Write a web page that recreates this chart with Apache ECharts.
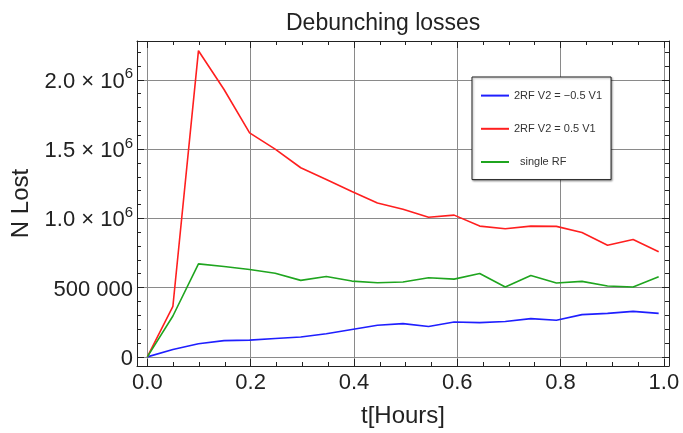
<!DOCTYPE html>
<html>
<head>
<meta charset="utf-8">
<script src="https://cdn.jsdelivr.net/npm/echarts@6/dist/echarts.min.js"></script>
<style>
  html, body { margin: 0; padding: 0; background: #fff; }
  #chart { width: 683px; height: 433px; }
</style>
</head>
<body>
<div id="chart"></div>
<script>
// Time axis (hours) and lost-particle counts for each RF configuration
const hours = [0, 0.0495, 0.099, 0.1485, 0.198, 0.2475, 0.297, 0.3465, 0.396, 0.4455, 0.495,
               0.5445, 0.594, 0.6435, 0.693, 0.7425, 0.792, 0.8415, 0.891, 0.9405, 0.99];
const lostMinusHalf = [0, 53000, 95000, 117000, 121000, 133000, 143000, 167000, 198000, 228000, 240000,
                       219000, 252000, 247000, 255000, 276000, 264000, 305000, 314000, 328000, 314000];
const lostPlusHalf = [0, 365000, 2210000, 1930000, 1617000, 1500000, 1365000, 1280000, 1194000, 1110000, 1065000,
                      1008000, 1023000, 944000, 925000, 944000, 942000, 897000, 806000, 847000, 759000];
const lostSingle = [0, 295000, 671000, 652000, 630000, 604000, 552000, 580000, 547000, 535000, 540000,
                    571000, 561000, 602000, 504000, 588000, 533000, 545000, 511000, 504000, 578000];

const seriesNames = ['2RF V2 = \u22120.5 V1', '2RF V2 = 0.5 V1', 'single RF'];

// Frame ticks
const xMajorTicks = [0, 0.2, 0.4, 0.6, 0.8, 1.0];
const xMinorTicks = [0.05, 0.1, 0.15, 0.25, 0.3, 0.35, 0.45, 0.5, 0.55, 0.65, 0.7, 0.75, 0.85, 0.9, 0.95];
const xTickLabels = ['0.0', '0.2', '0.4', '0.6', '0.8', '1.0'];
const yMajorTicks = [0, 500000, 1000000, 1500000, 2000000];
const yMinorTicks = [100000, 200000, 300000, 400000, 600000, 700000, 800000, 900000,
                     1100000, 1200000, 1300000, 1400000, 1600000, 1700000, 1800000, 1900000,
                     2100000, 2200000];
const yTickLabels = ['0', '500 000', '1.0 \u00d7 10^6', '1.5 \u00d7 10^6', '2.0 \u00d7 10^6'];

const X_MIN = -0.02, X_MAX = 1.01;
const Y_MIN = -66000, Y_MAX = 2280000;

const FONT = "'Liberation Sans', Arial, Helvetica, sans-serif";
const FRAME = '#222';
const GRID = '#8a8a8a';

function xLabel(v) {
  const i = xMajorTicks.findIndex(t => Math.abs(t - v) < 1e-9);
  return i < 0 ? '' : xTickLabels[i];
}
function yLabel(v) {
  const i = yMajorTicks.findIndex(t => Math.abs(t - v) < 1e-3);
  if (i < 0) return '';
  const parts = yTickLabels[i].split('^');
  return parts.length === 2 ? '{b|' + parts[0] + '}{s|' + parts[1] + '}' : '{b|' + parts[0] + '}';
}

function xAxisDef(position, ticks, len, major) {
  return {
    type: 'value', gridIndex: 0, position: position, min: X_MIN, max: X_MAX,
    axisLine: { show: major, onZero: false, lineStyle: { color: FRAME, width: 1 } },
    axisTick: { show: true, inside: true, length: len, customValues: ticks, lineStyle: { color: FRAME, width: 1 } },
    axisLabel: (major && position === 'bottom') ? {
      show: true, customValues: xMajorTicks, formatter: xLabel, margin: 6,
      fontSize: 22, fontFamily: FONT, color: '#222'
    } : { show: false },
    splitLine: (major && position === 'bottom') ? { show: true, lineStyle: { color: GRID, width: 1 } } : { show: false },
    minorTick: { show: false }
  };
}
function yAxisDef(position, ticks, len, major) {
  return {
    type: 'value', gridIndex: 0, position: position, min: Y_MIN, max: Y_MAX,
    axisLine: { show: major, onZero: false, lineStyle: { color: FRAME, width: 1 } },
    axisTick: { show: true, inside: true, length: len, customValues: ticks, lineStyle: { color: FRAME, width: 1 } },
    axisLabel: (major && position === 'left') ? {
      show: true, customValues: yMajorTicks, formatter: yLabel, margin: 4,
      rich: {
        b: { fontSize: 22, fontFamily: FONT, color: '#222', verticalAlign: 'bottom', lineHeight: 26 },
        s: { fontSize: 15, fontFamily: FONT, color: '#222', verticalAlign: 'top', lineHeight: 10 }
      }
    } : { show: false },
    splitLine: (major && position === 'left') ? { show: true, lineStyle: { color: GRID, width: 1 } } : { show: false },
    minorTick: { show: false }
  };
}

const xAxes = [
  xAxisDef('bottom', xMajorTicks, 7, true),
  xAxisDef('bottom', xMinorTicks, 4, false),
  xAxisDef('top', xMajorTicks, 7, true),
  xAxisDef('top', xMinorTicks, 4, false)
];
xAxes[0].name = 't[Hours]';
xAxes[0].nameLocation = 'middle';
xAxes[0].nameGap = 38;
xAxes[0].nameTextStyle = { fontSize: 24, fontFamily: FONT, color: '#222' };

const yAxes = [
  yAxisDef('left', yMajorTicks, 7, true),
  yAxisDef('left', yMinorTicks, 4, false),
  yAxisDef('right', yMajorTicks, 7, true),
  yAxisDef('right', yMinorTicks, 4, false)
];
yAxes[0].name = 'N Lost';
yAxes[0].nameLocation = 'middle';
yAxes[0].nameGap = 98;
yAxes[0].nameRotate = 90;
yAxes[0].nameTextStyle = { fontSize: 24, fontFamily: FONT, color: '#222' };

function pairs(ys) { return hours.map((h, i) => [h, ys[i]]); }

const colors = ['#1f1fff', '#ff1f1f', '#1fa51f'];
const values = [lostMinusHalf, lostPlusHalf, lostSingle];

const chart = echarts.init(document.getElementById('chart'), null, { renderer: 'canvas' });
chart.setOption({
  animation: false,
  backgroundColor: '#fff',
  title: {
    text: 'Debunching losses', left: 281, top: 7,
    textStyle: { fontSize: 23, fontWeight: 'normal', fontFamily: FONT, color: '#222' }
  },
  grid: { left: 137, top: 41, width: 532, height: 329, containLabel: false },
  xAxis: xAxes,
  yAxis: yAxes,
  legend: {
    orient: 'vertical', left: 472, top: 77,
    padding: [13, 9, 12, 8], itemGap: 22, itemWidth: 28, itemHeight: 14,
    backgroundColor: '#fff', borderColor: '#222', borderWidth: 1,
    shadowColor: 'rgba(0,0,0,0.35)', shadowOffsetX: 1, shadowOffsetY: 1, shadowBlur: 2,
    itemStyle: { opacity: 0 },
    data: seriesNames,
    formatter: n => n === 'single RF' ? '{p|' + n + '}' : n,
    textStyle: { fontSize: 11, fontFamily: FONT, color: '#333', rich: { p: { fontSize: 11, fontFamily: FONT, color: '#333', padding: [0, 0, 0, 6] } } }
  },
  series: seriesNames.map((name, k) => ({
    name: name, type: 'line', xAxisIndex: 0, yAxisIndex: 0,
    data: pairs(values[k]), symbol: 'none', smooth: false,
    lineStyle: { color: colors[k], width: 1.6 }, itemStyle: { color: colors[k] }
  }))
});
</script>
</body>
</html>
